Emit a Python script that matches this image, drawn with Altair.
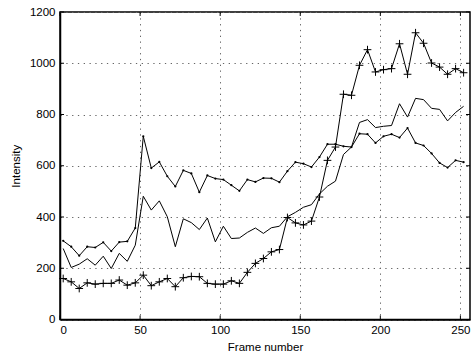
import altair as alt
import pandas as pd

frames = list(range(2, 253, 5))

top = [307, 284, 249, 284, 281, 301, 267, 302, 305, 357,
       715, 591, 615, 559, 519, 582, 570, 497, 562, 550,
       546, 524, 502, 546, 537, 552, 551, 536, 579, 614,
       608, 595, 634, 684, 684, 676, 673, 725, 723, 689,
       715, 723, 710, 747, 689, 679, 648, 611, 593, 621, 614]

middle = [277, 203, 216, 237, 212, 247, 199, 258, 227, 290,
          481, 427, 463, 401, 284, 393, 378, 351, 396, 303,
          364, 316, 318, 340, 357, 336, 358, 364, 401, 418,
          438, 448, 490, 520, 540, 644, 673, 769, 780, 749,
          754, 757, 842, 790, 863, 858, 824, 820, 775, 808, 832]

bottom = [160, 147, 121, 143, 138, 141, 141, 154, 134, 143,
          173, 132, 147, 160, 128, 163, 168, 167, 141, 138,
          138, 151, 141, 184, 219, 238, 264, 273, 398, 377,
          369, 384, 478, 621, 673, 879, 875, 992, 1053, 966,
          975, 979, 1076, 957, 1119, 1078, 1001, 985, 957, 979, 963]

x_ticks = [0, 50, 100, 150, 200, 250]
y_ticks = [0, 200, 400, 600, 800, 1000, 1200]

series_names = ["A", "B", "C"]

rows = []
for name, vals in zip(series_names, [top, middle, bottom]):
    for f, v in zip(frames, vals):
        rows.append({"series": name, "frame": f, "value": v})
df = pd.DataFrame(rows)

xt = pd.DataFrame({"t": x_ticks})
yt = pd.DataFrame({"t": y_ticks})

FONT = "Liberation Sans"
W, H = 410, 307.5
TL = 4

xscale = alt.Scale(domain=[0, 256], nice=False, zero=False)
yscale = alt.Scale(domain=[0, 1200], nice=False)

x = alt.X("frame:Q", title="Frame number", scale=xscale,
          axis=alt.Axis(values=x_ticks, format="d"))
y = alt.Y("value:Q", title="Intensity", scale=yscale,
          axis=alt.Axis(values=y_ticks, format="d"))

base = alt.Chart(df).encode(x=x, y=y)

lines = base.mark_line(color="black", strokeWidth=1).encode(detail="series:N")

dots = base.transform_filter(alt.datum.series == "A").mark_point(
    shape="circle", filled=True, color="black", size=5, opacity=1)

plus = base.transform_filter(alt.datum.series == "C").mark_point(
    shape="M-1,0H1M0,-1V1", filled=False, color="black", strokeWidth=1,
    size=60, opacity=1)

tick_style = dict(color="black", strokeWidth=1)
xb = alt.Chart(xt).mark_rule(**tick_style).encode(
    x=alt.X("t:Q", scale=xscale), y=alt.value(H), y2=alt.value(H - TL))
xtp = alt.Chart(xt).mark_rule(**tick_style).encode(
    x=alt.X("t:Q", scale=xscale), y=alt.value(0), y2=alt.value(TL))
yl = alt.Chart(yt).mark_rule(**tick_style).encode(
    y=alt.Y("t:Q", scale=yscale), x=alt.value(0), x2=alt.value(TL))
yr = alt.Chart(yt).mark_rule(**tick_style).encode(
    y=alt.Y("t:Q", scale=yscale), x=alt.value(W), x2=alt.value(W - TL))

chart = alt.layer(lines, dots, plus, xb, xtp, yl, yr).properties(
    width=W, height=H,
    autosize=alt.AutoSizeParams(type="none"),
    padding={"left": 60, "top": 12, "right": 2, "bottom": 32.5},
    background="white",
).configure_view(
    stroke="black", strokeWidth=1.5
).configure_axis(
    domain=True, domainColor="black", domainWidth=1.5,
    grid=True, gridColor="#666", gridDash=[1.3, 4.5], gridWidth=1,
    ticks=False, tickSize=0,
    labelFont=FONT, labelFontSize=11.5, labelColor="black",
    titleFont=FONT, titleFontSize=11.5, titleColor="black",
    titleFontWeight="normal",
).configure_axisX(
    labelPadding=5, titlePadding=5
).configure_axisY(
    labelPadding=5, titlePadding=8
)

chart.save("out.html", embed_options={"renderer": "svg", "actions": False})
